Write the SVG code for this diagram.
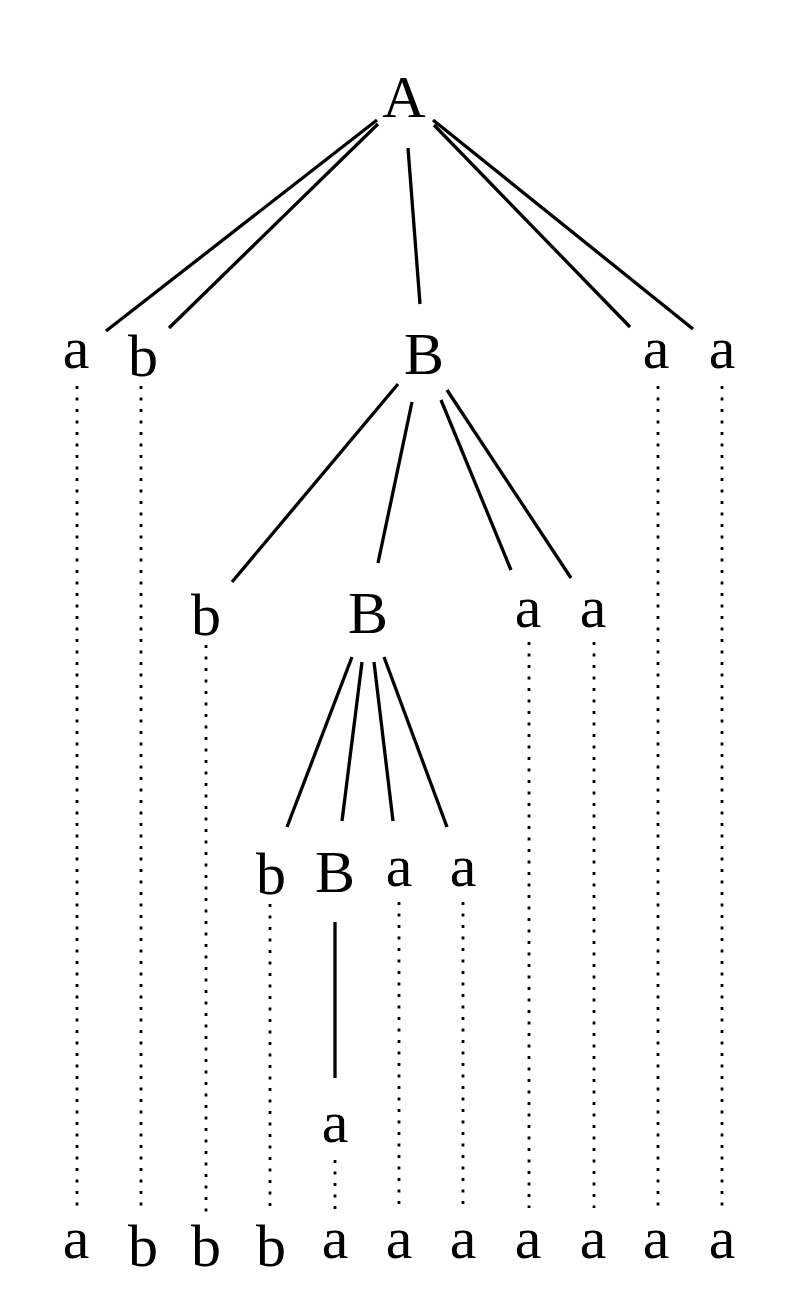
<svg xmlns="http://www.w3.org/2000/svg" width="800" height="1300" viewBox="0 0 800 1300">
<style>
text { font-family: "Liberation Serif", "Times New Roman", serif; font-size: 60px; fill: #000; text-anchor: middle; }
.e { stroke: #000; stroke-width: 3.3; fill: none; }
.d { stroke: #000; stroke-width: 2.8; fill: none; stroke-dasharray: 3 8.5; }
</style>
<rect width="800" height="1300" fill="#fff"/>
<g id="connectors">
  <line class="e" x1="377" y1="120" x2="106" y2="331"/>
  <line class="e" x1="378" y1="124" x2="169" y2="328"/>
  <line class="e" x1="408" y1="148" x2="420" y2="304"/>
  <line class="e" x1="434" y1="125" x2="630" y2="327"/>
  <line class="e" x1="433" y1="120" x2="693" y2="329"/>
  <line class="e" x1="398" y1="384" x2="232" y2="582"/>
  <line class="e" x1="412" y1="402" x2="378" y2="563"/>
  <line class="e" x1="441" y1="400" x2="511" y2="570"/>
  <line class="e" x1="447" y1="390" x2="571" y2="578"/>
  <line class="e" x1="352" y1="657" x2="287" y2="827"/>
  <line class="e" x1="362" y1="662" x2="342" y2="821"/>
  <line class="e" x1="374" y1="662" x2="393" y2="821"/>
  <line class="e" x1="384" y1="657" x2="447" y2="827"/>
  <line class="e" x1="335" y1="922" x2="335" y2="1078"/>
  <line class="d" x1="77" y1="386" x2="77" y2="1208"/>
  <line class="d" x1="141" y1="386" x2="141" y2="1208"/>
  <line class="d" x1="658" y1="386" x2="658" y2="1208"/>
  <line class="d" x1="722" y1="386" x2="722" y2="1208"/>
  <line class="d" x1="206" y1="645" x2="206" y2="1212"/>
  <line class="d" x1="529" y1="642" x2="529" y2="1208"/>
  <line class="d" x1="594" y1="642" x2="594" y2="1208"/>
  <line class="d" x1="270" y1="904" x2="270" y2="1212"/>
  <line class="d" x1="399" y1="902" x2="399" y2="1208"/>
  <line class="d" x1="463" y1="902" x2="463" y2="1208"/>
  <line class="d" x1="335" y1="1160" x2="335" y2="1210"/>
</g>
<g id="n0"><text x="404" y="117">A</text></g>
<g id="n1a"><text x="76" y="368">a</text></g>
<g id="n1b"><text x="143" y="376">b</text></g>
<g id="n1B"><text x="424" y="374">B</text></g>
<g id="n1c"><text x="656" y="368">a</text></g>
<g id="n1d"><text x="722" y="368">a</text></g>
<g id="n2b"><text x="206" y="635">b</text></g>
<g id="n2B"><text x="368" y="633">B</text></g>
<g id="n2a"><text x="528" y="627">a</text></g>
<g id="n2c"><text x="593" y="627">a</text></g>
<g id="n3b"><text x="271" y="894">b</text></g>
<g id="n3B"><text x="335" y="892">B</text></g>
<g id="n3a"><text x="399" y="886">a</text></g>
<g id="n3c"><text x="463" y="886">a</text></g>
<g id="n4a"><text x="335" y="1142">a</text></g>
<g id="leaves">
  <text x="76" y="1258">a</text>
  <text x="143" y="1266">b</text>
  <text x="206" y="1266">b</text>
  <text x="271" y="1266">b</text>
  <text x="335" y="1258">a</text>
  <text x="399" y="1258">a</text>
  <text x="463" y="1258">a</text>
  <text x="528" y="1258">a</text>
  <text x="593" y="1258">a</text>
  <text x="656" y="1258">a</text>
  <text x="722" y="1258">a</text>
</g>
</svg>
